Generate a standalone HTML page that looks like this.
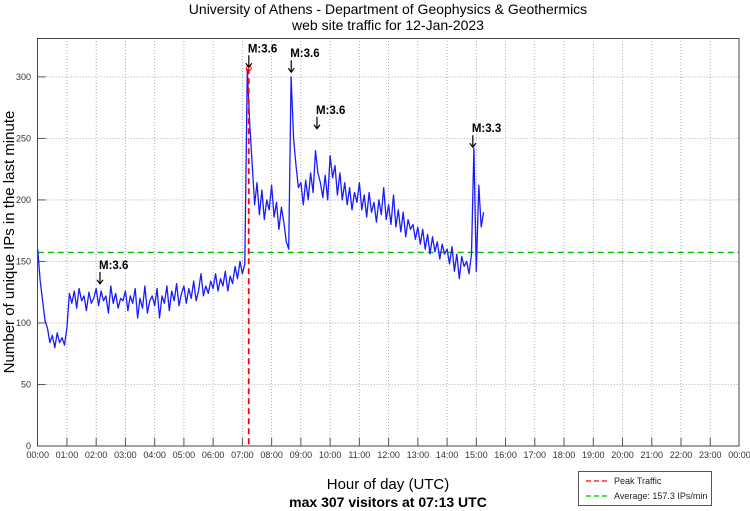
<!DOCTYPE html>
<html><head><meta charset="utf-8"><style>
body{margin:0;background:#fff;}
svg{display:block;font-family:"Liberation Sans",sans-serif;}
</style></head><body>
<svg id="chart" width="750" height="511" viewBox="0 0 750 511">
<text x="388" y="14" text-anchor="middle" font-size="14">University of Athens - Department of Geophysics &amp; Geothermics</text>
<text x="388" y="30" text-anchor="middle" font-size="14">web site traffic for 12-Jan-2023</text>
<text transform="translate(14,242) rotate(-90)" text-anchor="middle" font-size="15">Number of unique IPs in the last minute</text>
<text x="388" y="489" text-anchor="middle" font-size="15">Hour of day (UTC)</text>
<text x="388" y="507" text-anchor="middle" font-size="14" font-weight="bold">max 307 visitors at 07:13 UTC</text>
<g id="grid"></g>
<g id="series"></g>
<rect x="37.5" y="38.5" width="701.5" height="407.5" fill="none" stroke="#444" stroke-width="1"/>
<g id="legend">
<rect x="578.5" y="471.5" width="133" height="34" fill="#fff" stroke="#555"/>
<line x1="586" y1="481" x2="610" y2="481" stroke="#f00" stroke-width="1.2" stroke-dasharray="5,3"/>
<text x="614" y="484" font-size="9" fill="#222">Peak Traffic</text>
<line x1="586" y1="496" x2="610" y2="496" stroke="#0b0" stroke-width="1.2" stroke-dasharray="5,3"/>
<text x="614" y="499" font-size="9" fill="#222">Average: 157.3 IPs/min</text>
</g>
</svg>
<script>
const xTickLabels=["00:00","01:00","02:00","03:00","04:00","05:00","06:00","07:00","08:00","09:00","10:00","11:00","12:00","13:00","14:00","15:00","16:00","17:00","18:00","19:00","20:00","21:00","22:00","23:00","00:00"];
const yTicks=[0,50,100,150,200,250,300];
const stepMinutes=5;
const traffic=[160,135,118,102,96,84,90,80,92,84,88,82,
96,124,116,126,112,128,118,122,110,125,116,120,
128,114,126,118,122,108,130,116,124,112,120,118,
126,110,122,116,128,104,120,112,130,108,118,122,
114,128,104,122,116,130,110,126,118,132,114,124,
130,116,128,120,134,118,126,140,122,130,124,134,
128,140,126,136,130,142,126,138,132,146,136,150,
140,148,306,262,230,196,214,188,208,184,200,192,
212,186,198,176,194,182,166,160,300,250,228,210,
214,196,216,200,222,206,240,222,214,202,220,200,
236,218,228,204,222,200,214,196,210,192,206,198,
214,192,204,186,206,190,198,182,200,188,210,184,
196,180,204,178,192,174,190,170,184,176,180,168,
178,164,176,160,172,156,170,158,166,152,164,156,
160,148,162,142,156,136,154,146,150,140,156,242,
142,212,178,190];
const peakValue=307, peakHour=7+13/60;
const averageValue=157.3;
const markerHours=[2.13,7.22,8.67,9.55,14.88];
const markerValues=[131,307,303,257,242];
const markerLabels=["M:3.6","M:3.6","M:3.6","M:3.6","M:3.3"];
const X0=37.7,X1=739.5,Y0=446,Y1=38,YMAX=331.6;
const xs=h=>X0+(X1-X0)*h/24;
const ys=v=>Y0-(Y0-Y1)*v/YMAX;
const NS="http://www.w3.org/2000/svg";
function mk(tag,attrs,parent){const e=document.createElementNS(NS,tag);for(const k in attrs)e.setAttribute(k,attrs[k]);parent.appendChild(e);return e;}
const grid=document.getElementById('grid'),ser=document.getElementById('series');
xTickLabels.forEach((t,i)=>{const x=xs(i);
 if(i>0&&i<24){const g=mk('line',{x1:x,y1:Y1,x2:x,y2:Y0,stroke:'#999','stroke-width':0.8,'stroke-dasharray':'1,2'},grid);
 
 
 const tk=mk('line',{x1:x,y1:Y0,x2:x,y2:Y0-8,stroke:'#555','stroke-width':1},grid);
 
 }
 const tx=mk('text',{x:x,y:458,'text-anchor':'middle','font-size':9,fill:'#333'},grid);tx.textContent=t;
 
 
});
yTicks.forEach(v=>{const y=ys(v);
 if(v>0){const g=mk('line',{x1:X0,y1:y,x2:X1,y2:y,stroke:'#999','stroke-width':0.8,'stroke-dasharray':'1,2'},grid);
 
 
 const tk=mk('line',{x1:X0,y1:y,x2:X0+8,y2:y,stroke:'#555','stroke-width':1},grid);
 
 }
 const tx=mk('text',{x:31,y:y+3,'text-anchor':'end','font-size':9,fill:'#333'},grid);tx.textContent=v;
 
 
});
const avg=mk('line',{x1:X0,y1:ys(averageValue),x2:X1,y2:ys(averageValue),stroke:'#0b0','stroke-width':1.3,'stroke-dasharray':'6,4'},ser);


const pts=traffic.map((v,i)=>xs(i*stepMinutes/60).toFixed(1)+','+ys(v).toFixed(1)).join(' ');
const pl=mk('polyline',{points:pts,fill:'none',stroke:'#1a1aff','stroke-width':1.3,'stroke-linejoin':'round'},ser);


const pk=mk('line',{x1:xs(peakHour),y1:ys(peakValue),x2:xs(peakHour),y2:Y0,stroke:'#f00','stroke-width':1.8,'stroke-dasharray':'6,4'},ser);


const pc=mk('circle',{cx:xs(peakHour),cy:ys(peakValue),r:2.5,fill:'none',stroke:'#f00','stroke-width':1},ser);


markerHours.forEach((h,i)=>{const x=xs(h),y=ys(markerValues[i]);
 const a=mk('path',{d:`M${x},${y-1} L${x},${y-13} M${x-3},${y-5} L${x},${y-1} L${x+3},${y-5}`,fill:'none',stroke:'#000','stroke-width':1.2},ser);
 
 
 const t=mk('text',{x:x-1,y:y-16,'font-size':11.5,'font-weight':'bold'},ser);t.textContent=markerLabels[i];
 
 
});
</script>
</body></html>
